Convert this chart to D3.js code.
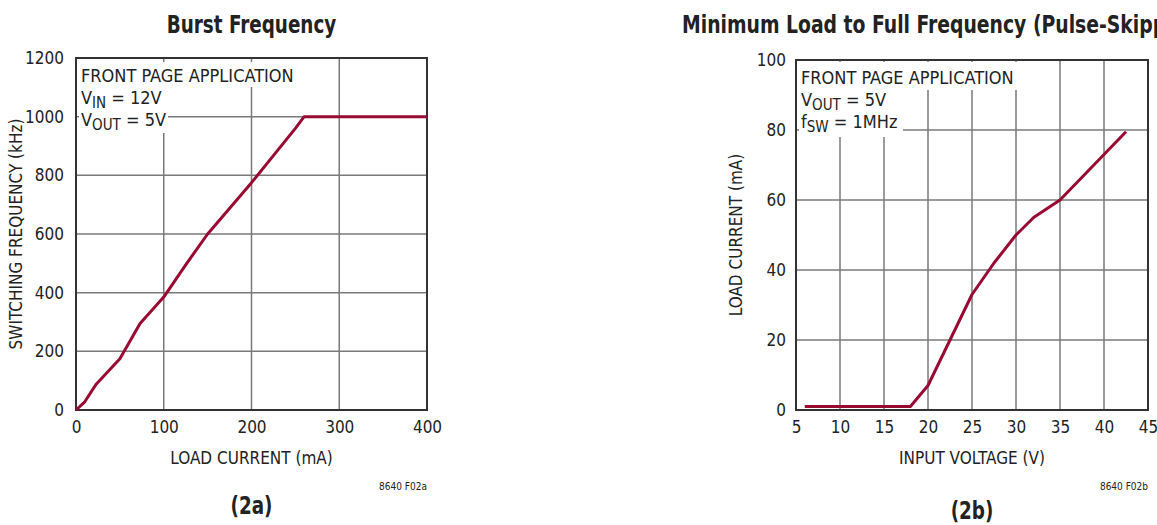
<!DOCTYPE html>
<html>
<head>
<meta charset="utf-8">
<script src="https://cdn.jsdelivr.net/npm/d3@7"></script>
<style>
  body { margin: 0; background: #fff; }
  svg { display: block; }
  text { font-family: "Liberation Sans Narrow", "DejaVu Sans Condensed", "Liberation Sans", Arial, sans-serif; fill: #222; }
  .title { font-weight: bold; font-size: 24px; }
  .tick text { font-size: 17px; }
</style>
</head>
<body>
<div id="chart"></div>
<script>
// burst frequency: load current (mA) vs switching frequency (kHz)
const burstCurrent = [0, 10, 23, 50, 73, 100, 125, 150, 200, 250, 260, 400];
const burstFreq    = [0, 28, 88, 175, 295, 385, 495, 600, 775, 960, 1000, 1000];
const burstXTicks = [0, 100, 200, 300, 400];
const burstYTicks = [0, 200, 400, 600, 800, 1000, 1200];

// minimum load: input voltage (V) vs load current (mA)
const minVin  = [6, 18, 20, 22.5, 25, 27.5, 30, 32, 35, 42.5];
const minLoad = [1, 1, 7, 20, 33, 42, 50, 55, 60, 79.5];
const minXTicks = [5, 10, 15, 20, 25, 30, 35, 40, 45];
const minYTicks = [0, 20, 40, 60, 80, 100];

const W = 1157, H = 525;
const lineColor = "#990a33";

const svg = d3.select("#chart").append("svg")
    .attr("width", W)
    .attr("height", H);

// the original type is a condensed face, so narrow the bold headings a bit
function squeeze(sel, k) {
    const len = sel.node().getComputedTextLength();
    sel.attr("textLength", len * k).attr("lengthAdjust", "spacingAndGlyphs");
}

function drawPanel(opt) {
    const g = svg.append("g");
    const x = d3.scaleLinear().domain(opt.xDomain).range([opt.left, opt.right]);
    const y = d3.scaleLinear().domain(opt.yDomain).range([opt.bottom, opt.top]);

    // grid
    g.selectAll(".vgrid")
        .data(opt.xTicks.slice(1, -1))
        .enter().append("line")
        .attr("x1", d => x(d)).attr("x2", d => x(d))
        .attr("y1", opt.top).attr("y2", opt.bottom)
        .attr("stroke", "#7a7a7a").attr("stroke-width", 1.5);
    g.selectAll(".hgrid")
        .data(opt.yTicks.slice(1, -1))
        .enter().append("line")
        .attr("x1", opt.left).attr("x2", opt.right)
        .attr("y1", d => y(d)).attr("y2", d => y(d))
        .attr("stroke", "#7a7a7a").attr("stroke-width", 1.5);

    // white backing behind the annotation
    opt.boxes.forEach(function(b) {
        g.append("rect")
            .attr("x", b[0]).attr("y", b[1])
            .attr("width", b[2] - b[0]).attr("height", b[3] - b[1])
            .attr("fill", "#fff");
    });

    // frame
    g.append("rect")
        .attr("x", opt.left).attr("y", opt.top)
        .attr("width", opt.right - opt.left).attr("height", opt.bottom - opt.top)
        .attr("fill", "none").attr("stroke", "#333").attr("stroke-width", 2);

    // axes (labels only)
    const xAxis = d3.axisBottom(x).tickValues(opt.xTicks).tickSize(0).tickPadding(11).tickFormat(d3.format("d"));
    g.append("g").attr("transform", `translate(0,${opt.bottom})`).call(xAxis)
        .call(s => s.select(".domain").remove());
    const yAxis = d3.axisLeft(y).tickValues(opt.yTicks).tickSize(0).tickPadding(opt.yPad).tickFormat(d3.format("d"));
    g.append("g").attr("transform", `translate(${opt.left},0)`).call(yAxis)
        .call(s => s.select(".domain").remove());
    g.selectAll(".tick text").attr("fill", "#222").style("font-family", null);

    // curve
    const pts = opt.xs.map((d, i) => [d, opt.ys[i]]);
    g.append("path")
        .datum(pts)
        .attr("fill", "none")
        .attr("stroke", lineColor)
        .attr("stroke-width", 3)
        .attr("stroke-linejoin", "round")
        .attr("d", d3.line().x(d => x(d[0])).y(d => y(d[1])));

    // annotation text
    opt.notes.forEach(function(n, i) {
        const t = g.append("text")
            .attr("x", opt.left + 5)
            .attr("y", opt.top + 24 + i * 22)
            .attr("font-size", 18);
        t.append("tspan").text(n[0]);
        if (n[1]) t.append("tspan").attr("dy", 4).attr("font-size", 15).text(n[1]);
        if (n[2]) t.append("tspan").attr("dy", -4).text(n[2]);
    });

    const cx = (opt.left + opt.right) / 2;
    const title = g.append("text").attr("class", "title")
        .attr("x", opt.titleX == null ? cx : opt.titleX)
        .attr("y", 33)
        .attr("text-anchor", opt.titleX == null ? "middle" : "start")
        .text(opt.title);
    squeeze(title, opt.titleK);
    g.append("text")
        .attr("x", cx).attr("y", 464)
        .attr("text-anchor", "middle").attr("font-size", 17)
        .text(opt.xLabel);
    g.append("text")
        .attr("transform", `translate(${opt.yLabelX},${(opt.top + opt.bottom) / 2}) rotate(-90)`)
        .attr("text-anchor", "middle").attr("font-size", 17)
        .text(opt.yLabel);
    g.append("text")
        .attr("x", opt.right).attr("y", 490)
        .attr("text-anchor", "end").attr("font-size", 10)
        .text(opt.code);
    const cap = g.append("text").attr("class", "title")
        .attr("x", cx).attr("y", opt.capY)
        .attr("text-anchor", "middle")
        .text(opt.caption);
    squeeze(cap, 0.85);
}

drawPanel({
    left: 76, right: 427, top: 58, bottom: 410,
    xDomain: [0, 400], yDomain: [0, 1200],
    xTicks: burstXTicks, yTicks: burstYTicks,
    xs: burstCurrent, ys: burstFreq,
    yPad: 12,
    boxes: [[79, 62, 292, 87], [79, 87, 168, 133]],
    notes: [["FRONT PAGE APPLICATION"], ["V", "IN", " = 12V"], ["V", "OUT", " = 5V"]],
    title: "Burst Frequency", titleK: 0.85,
    xLabel: "LOAD CURRENT (mA)",
    yLabel: "SWITCHING FREQUENCY (kHz)",
    yLabelX: 22,
    code: "8640 F02a",
    caption: "(2a)", capY: 514
});

drawPanel({
    left: 796, right: 1148, top: 60, bottom: 410,
    xDomain: [5, 45], yDomain: [0, 100],
    xTicks: minXTicks, yTicks: minYTicks,
    xs: minVin, ys: minLoad,
    yPad: 10,
    boxes: [[799, 62, 1020, 90], [799, 90, 903, 137]],
    notes: [["FRONT PAGE APPLICATION"], ["V", "OUT", " = 5V"], ["f", "SW", " = 1MHz"]],
    title: "Minimum Load to Full Frequency (Pulse-Skipping Mode)", titleK: 0.87,
    titleX: 682,
    xLabel: "INPUT VOLTAGE (V)",
    yLabel: "LOAD CURRENT (mA)",
    yLabelX: 742,
    code: "8640 F02b",
    caption: "(2b)", capY: 519
});
</script>
</body>
</html>
